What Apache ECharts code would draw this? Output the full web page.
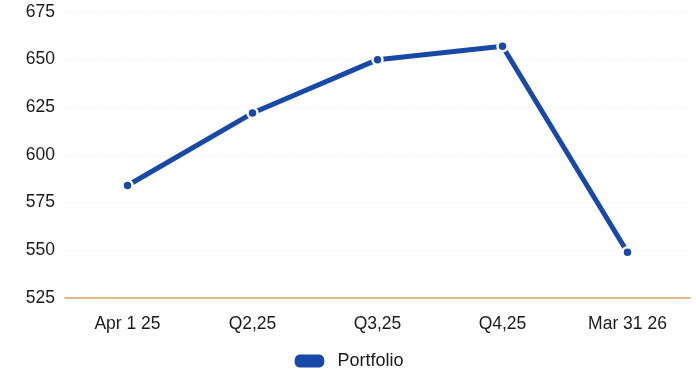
<!DOCTYPE html>
<html>
<head>
<meta charset="utf-8">
<script src="https://cdn.jsdelivr.net/npm/echarts@6/dist/echarts.min.js"></script>
<style>html,body{margin:0;padding:0;background:#fff}#c{width:696px;height:372px}</style>
</head>
<body>
<div id="c"></div>
<script>
var categories = ['Apr 1 25', 'Q2,25', 'Q3,25', 'Q4,25', 'Mar 31 26'];
var portfolio = [584, 622, 650, 657, 549];
var seriesName = 'Portfolio';

var chart = echarts.init(document.getElementById('c'));
chart.setOption({
  animation: false,
  textStyle: { fontFamily: 'Liberation Sans, Arial, sans-serif' },
  grid: { left: 65, right: 6, top: 12, bottom: 74 },
  legend: {
    top: 347,
    left: 'center',
    icon: 'path://M6,0 H26 A6,7.5 0 0 1 26,15 H6 A6,7.5 0 0 1 6,0 Z',
    itemWidth: 32,
    itemHeight: 15,
    textStyle: { fontSize: 18, color: '#1a1a1a', padding: [0, 0, 0, 7], fontFamily: 'Liberation Sans, Arial, sans-serif' },
    data: [seriesName]
  },
  xAxis: {
    type: 'category',
    data: categories,
    boundaryGap: true,
    axisLine: { lineStyle: { color: '#d9a461', width: 1.5 } },
    axisTick: { alignWithLabel: true, length: 7, lineStyle: { color: '#d9a461', width: 1 } },
    axisLabel: { color: '#1a1a1a', fontSize: 17.5, margin: 17 }
  },
  yAxis: {
    type: 'value',
    min: 525,
    max: 675,
    interval: 25,
    axisLine: { show: false },
    axisTick: { show: false },
    axisLabel: { color: '#1a1a1a', fontSize: 17.5, margin: 10 },
    splitLine: { show: true, lineStyle: { color: '#f5f5f5', width: 1, type: 'dashed' } }
  },
  series: [{
    name: seriesName,
    type: 'line',
    data: portfolio,
    color: '#1848a8',
    lineStyle: { width: 5, color: '#1848a8' },
    symbol: 'circle',
    symbolSize: 10,
    showAllSymbol: true,
    itemStyle: { color: '#1848a8', borderColor: '#fff', borderWidth: 2.5 }
  }]
});
</script>
</body>
</html>
